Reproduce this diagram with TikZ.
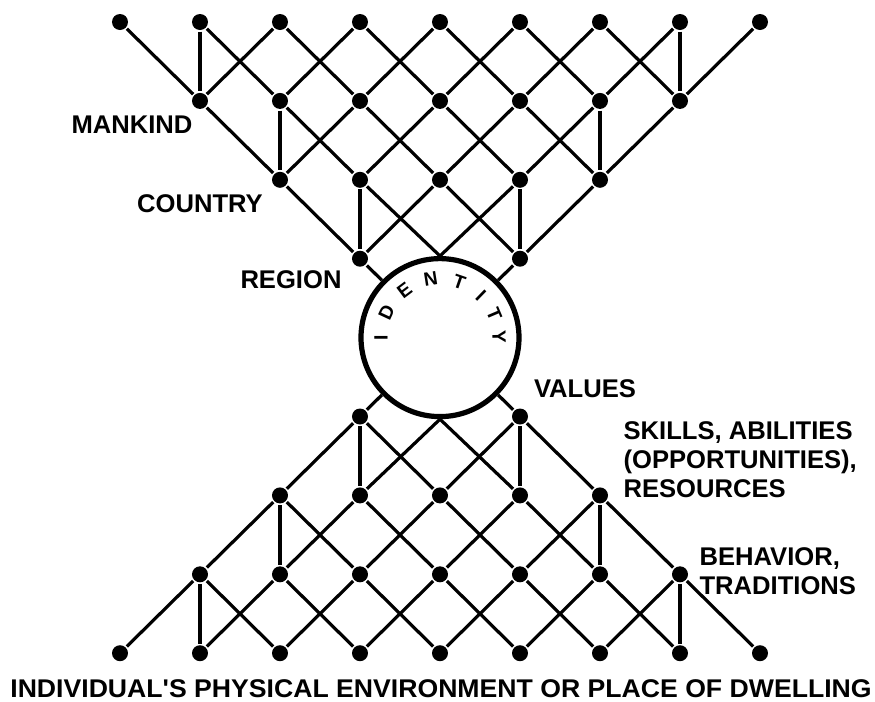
\documentclass[tikz,border=0pt]{standalone}
\usepackage{fontspec}
\setmainfont{Liberation Sans}

\begin{document}
\begin{tikzpicture}[x=40pt, y=-39.45pt, line width=1.6pt]
  \tikzstyle{dot} = [circle, fill, inner sep=0pt, minimum size=8pt]
  \tikzstyle{term} = [font=\bfseries\fontsize{12.8}{14.5}\selectfont, inner sep=0pt, align=left]
  \useasboundingbox (-1.5,-0.2788) rectangle (9.4375,8.606);

  % lattice points, upper half and its mirror
  \foreach \rw/\cols in {0/{0,...,8}, 1/{1,...,7}, 2/{2,...,6}, 3/{3,5}} {
    \pgfmathtruncatemacro\rwm{8-\rw}
    \foreach \cl in \cols {
      \node[dot] (p-\cl-\rw) at (\cl,\rw) {};
      \node[dot] (p-\cl-\rwm) at (\cl,\rwm) {};
    }
  }

  \node[circle, draw, line width=2.6pt, minimum size=79pt, inner sep=0pt] (identity) at (4,4) {};
  \coordinate (p-4-3) at (identity.north);
  \coordinate (p-4-5) at (identity.south);

  % diagonals
  \foreach \rw/\cols in {1/{1,...,7}, 2/{2,...,6}, 3/{3,4,5}} {
    \pgfmathtruncatemacro\rwu{\rw-1}
    \pgfmathtruncatemacro\rwm{8-\rw}
    \pgfmathtruncatemacro\rwn{9-\rw}
    \foreach \cl in \cols {
      \pgfmathtruncatemacro\cll{\cl-1}
      \pgfmathtruncatemacro\clr{\cl+1}
      \draw (p-\cll-\rwu) -- (p-\cl-\rw) -- (p-\clr-\rwu);
      \draw (p-\cll-\rwn) -- (p-\cl-\rwm) -- (p-\clr-\rwn);
    }
  }

  % verticals
  \foreach \cl/\rw in {1/0, 2/1, 3/2, 7/0, 6/1, 5/2} {
    \pgfmathtruncatemacro\rwd{\rw+1}
    \pgfmathtruncatemacro\rwm{8-\rw}
    \pgfmathtruncatemacro\rwn{7-\rw}
    \draw (p-\cl-\rw) -- (p-\cl-\rwd) (p-\cl-\rwm) -- (p-\cl-\rwn);
  }

  \foreach \cl/\rw in {3/3, 5/3, 3/5, 5/5}
    \draw (p-\cl-\rw) -- (identity);

  \foreach \ch/\ang [count=\i] in {I/180, D/155, E/127, N/99, T/71, I/46, T/23, Y/1}
    \node[font=\bfseries\fontsize{9.6}{11}\selectfont, inner sep=0pt, rotate=\ang-90] (id-\i)
      at ([shift={(\ang:29.5pt)}]identity.center) {\ch};

  \node[term] (mankind) at (0.15,1.305) {MANKIND};
  \node[term] (country) at (1.0,2.307) {COUNTRY};
  \node[term] (region) at (2.1375,3.27) {REGION};
  \node[term] (values) at (5.8125,4.651) {VALUES};
  \node[term, anchor=west] (skills) at (6.275,5.551) {SKILLS, ABILITIES\\(OPPORTUNITIES),\\RESOURCES};
  \node[term, anchor=west] (behavior) at (7.225,6.958) {BEHAVIOR,\\TRADITIONS};
  \node[term, xscale=1.04] (dwelling) at (4.0125,8.45) {INDIVIDUAL\textquotesingle S PHYSICAL ENVIRONMENT OR PLACE OF DWELLING};
\end{tikzpicture}
\end{document}
